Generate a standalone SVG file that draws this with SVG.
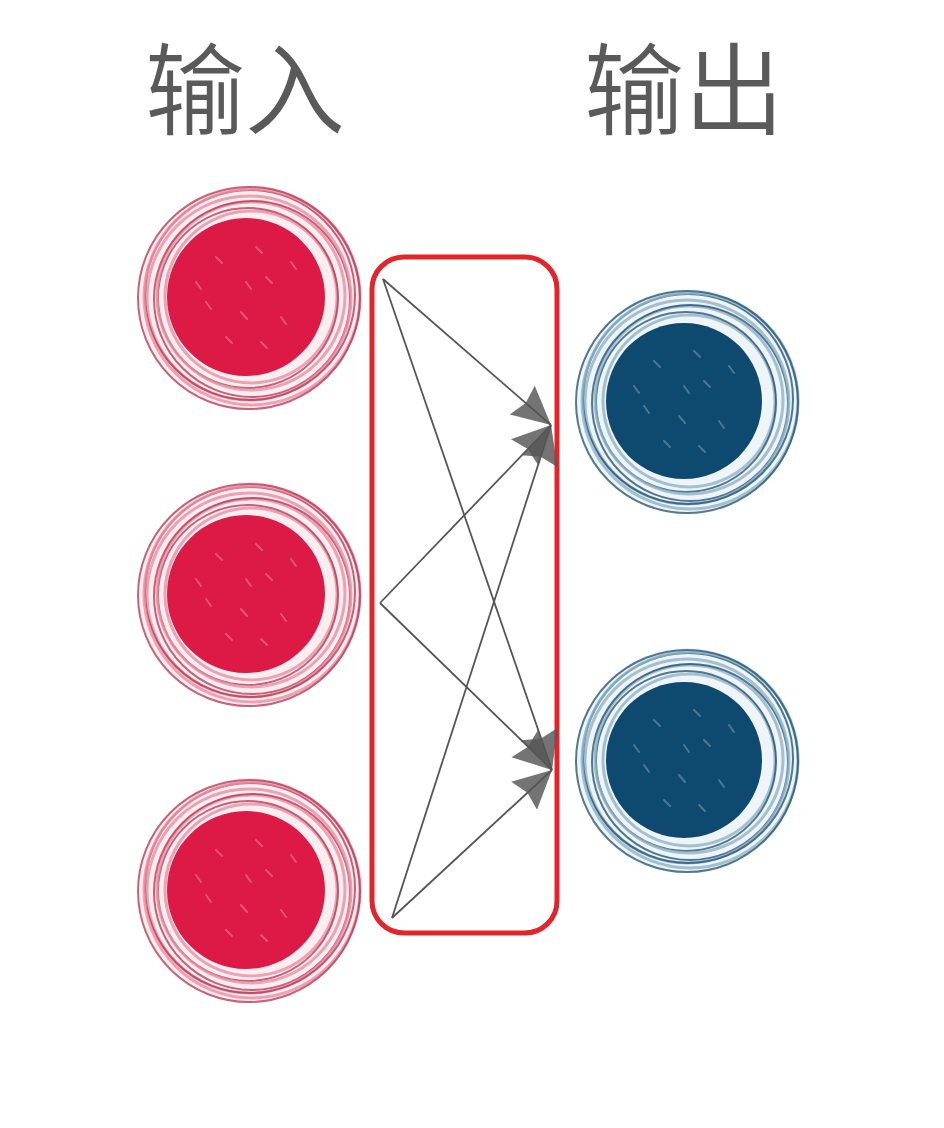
<svg xmlns="http://www.w3.org/2000/svg" xmlns:xlink="http://www.w3.org/1999/xlink" width="944" height="1128" viewBox="0 0 944 1128">
<style>
.title{font-family:"Noto Sans CJK SC","Noto Sans",sans-serif;font-size:100px;font-weight:350;fill:#5a5a5a;}
.edge{stroke:#555555;stroke-width:1.8;fill:none;marker-end:url(#arr);}
.box{fill:none;stroke:#e3242b;stroke-width:5;}
.rd{fill:none;stroke:#b5304f;stroke-width:2;opacity:.75}
.rl{fill:none;stroke:#e98ea3;stroke-width:3;opacity:.8}
.bd{fill:none;stroke:#1a4e6c;stroke-width:2;opacity:.75}
.bl{fill:none;stroke:#8fb3c8;stroke-width:3;opacity:.8}
.sp{stroke:#ffffff;stroke-width:2;opacity:.25;stroke-linecap:round}
</style>
<defs>
<marker id="arr" viewBox="0 0 10 10" refX="10" refY="5" markerUnits="userSpaceOnUse" markerWidth="38" markerHeight="40" orient="auto">
<path d="M0,0 L10,5 L0,10 L1.2,5 Z" fill="#555" fill-opacity="0.82"/>
</marker>
<g id="specks">
<line class="sp" x1="-30" y1="-40" x2="-24" y2="-34"/>
<line class="sp" x1="10" y1="-50" x2="16" y2="-44"/>
<line class="sp" x1="20" y1="-20" x2="26" y2="-14"/>
<line class="sp" x1="-40" y1="5" x2="-35" y2="12"/>
<line class="sp" x1="-5" y1="15" x2="1" y2="22"/>
<line class="sp" x1="35" y1="20" x2="40" y2="27"/>
<line class="sp" x1="-20" y1="40" x2="-14" y2="46"/>
<line class="sp" x1="15" y1="45" x2="21" y2="51"/>
<line class="sp" x1="-50" y1="-15" x2="-45" y2="-8"/>
<line class="sp" x1="45" y1="-35" x2="50" y2="-28"/>
<line class="sp" x1="0" y1="-15" x2="5" y2="-8"/>
</g>
<g id="ringsR">
<circle r="112" fill="#fbeef1"/>
<circle class="rl" cx="1" cy="0" r="86"/>
<circle class="rd" cx="-2" cy="1" r="90"/>
<circle class="rl" cx="1" cy="-1" r="94"/>
<circle class="rd" cx="2" cy="2" r="98"/>
<circle class="rl" cx="-1" cy="1" r="102"/>
<circle class="rd" cx="0" cy="-2" r="105"/>
<circle class="rl" cx="2" cy="0" r="108"/>
<circle class="rd" cx="-1" cy="1" r="111"/>
<circle cx="-4" cy="0" r="79" fill="#dc1a45"/>
<use href="#specks" x="-4"/>
</g>
<g id="ringsB">
<circle r="112" fill="#eef4f7"/>
<circle class="bl" cx="1" cy="0" r="86"/>
<circle class="bd" cx="-2" cy="1" r="90"/>
<circle class="bl" cx="1" cy="-1" r="94"/>
<circle class="bd" cx="2" cy="2" r="98"/>
<circle class="bl" cx="-1" cy="1" r="102"/>
<circle class="bd" cx="0" cy="-2" r="105"/>
<circle class="bl" cx="2" cy="0" r="108"/>
<circle class="bd" cx="-1" cy="1" r="111"/>
<circle cx="-4" cy="0" r="78" fill="#0e4a6f"/>
<use href="#specks" x="-4"/>
</g>
</defs>
<rect width="944" height="1128" fill="#ffffff"/>
<g id="labels">
<text class="title" x="145" y="127">输入</text>
<text class="title" x="584" y="127">输出</text>
</g>
<g id="in1"><use href="#ringsR" x="250" y="297"/></g>
<g id="in2"><use href="#ringsR" x="250" y="594"/></g>
<g id="in3"><use href="#ringsR" x="250" y="890"/></g>
<g id="out1"><use href="#ringsB" x="688" y="401"/></g>
<g id="out2"><use href="#ringsB" x="688" y="760"/></g>
<g id="layer"><rect class="box" x="372" y="257" width="185" height="676" rx="32"/></g>
<g id="connectors">
<line class="edge" x1="383" y1="279" x2="551" y2="425"/>
<line class="edge" x1="383" y1="279" x2="552" y2="770"/>
<line class="edge" x1="380" y1="603" x2="551" y2="425"/>
<line class="edge" x1="380" y1="603" x2="552" y2="770"/>
<line class="edge" x1="392" y1="918" x2="551" y2="425"/>
<line class="edge" x1="392" y1="918" x2="552" y2="770"/>
</g>
</svg>
